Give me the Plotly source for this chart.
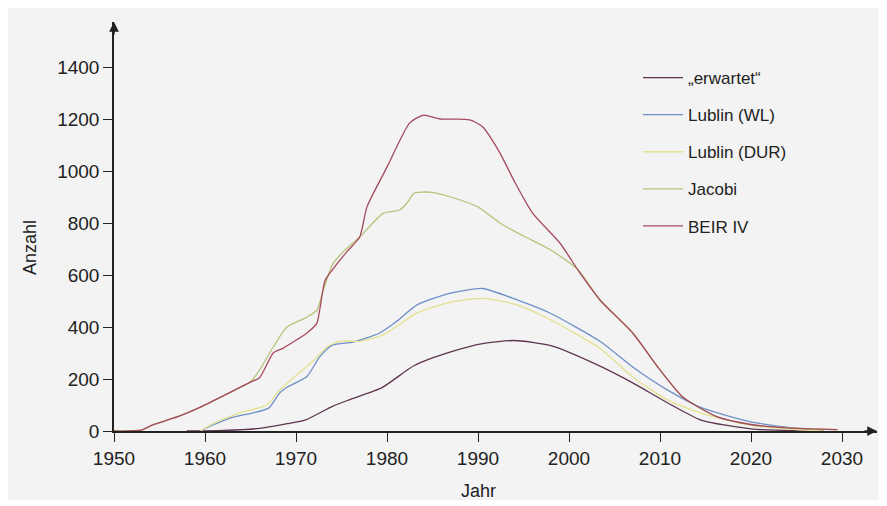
import plotly.graph_objects as go

# values
years_erwartet = [1958, 1962, 1966, 1969, 1971, 1974, 1976, 1979.5, 1983, 1987, 1990.5, 1994, 1998, 2003, 2007, 2011, 2014.5, 2020, 2025, 2028]
erwartet = [0, 2, 10, 28, 42, 95, 122, 168, 252, 304, 336, 348, 328, 256, 185, 105, 42, 8, 1, 0]

years_wl = [1959.5, 1961, 1963, 1965.3, 1967, 1968.2, 1969, 1971.2, 1972.6, 1974, 1976.3, 1979.2, 1981, 1983.3, 1987, 1990.5, 1994.3, 1998, 2003.4, 2007, 2010.8, 2014.4, 2020, 2025.4, 2027.5]
lublin_wl = [0, 25, 52, 70, 88, 146, 168, 210, 285, 330, 342, 377, 420, 485, 530, 548, 504, 452, 345, 246, 158, 92, 35, 8, 0]

years_dur = [1959.5, 1961, 1963.8, 1966.8, 1968.2, 1970.4, 1971.9, 1973.4, 1974.8, 1977, 1979.6, 1983.3, 1987, 1990.5, 1994.3, 1998, 2003.4, 2007, 2010.8, 2014.4, 2020, 2025, 2028]
lublin_dur = [0, 30, 69, 100, 158, 225, 270, 323, 345, 345, 370, 454, 496, 510, 485, 427, 318, 208, 120, 70, 23, 5, 0]

years_jacobi = [1950, 1953, 1954, 1957, 1959.5, 1962, 1965, 1966, 1967.5, 1969, 1971.2, 1972.3, 1973, 1974, 1975.2, 1977, 1979.6, 1981.4, 1982.2, 1983, 1985, 1987, 1990, 1992.4, 1995, 1998, 2001, 2003.4, 2007, 2010, 2012.5, 2016.3, 2020, 2024, 2029.5]
jacobi = [0, 3, 20, 55, 92, 135, 190, 235, 323, 400, 438, 465, 542, 640, 690, 746, 838, 850, 877, 915, 918, 900, 862, 800, 750, 696, 620, 504, 377, 235, 131, 54, 23, 12, 5]

years_beir = [1950, 1953, 1954, 1957, 1959.5, 1962, 1965, 1966, 1967.5, 1968.6, 1971.2, 1972.3, 1972.6, 1973.2, 1974, 1975.6, 1977, 1977.8, 1980, 1982.5, 1984, 1985.8, 1989.1, 1990.5, 1992.4, 1994, 1996, 1999, 2001.2, 2003.4, 2007, 2010, 2012.5, 2016.3, 2020, 2024, 2029.5]
beir = [0, 3, 20, 55, 92, 135, 188, 205, 300, 319, 377, 415, 465, 580, 620, 690, 746, 862, 1015, 1185, 1215, 1200, 1197, 1170, 1070, 960, 838, 723, 608, 504, 377, 235, 131, 54, 25, 12, 5]

series = [
    ('„erwartet“', years_erwartet, erwartet, '#5e3450'),
    ('Lublin (WL)', years_wl, lublin_wl, '#6f8fc8'),
    ('Lublin (DUR)', years_dur, lublin_dur, '#e3e08e'),
    ('Jacobi', years_jacobi, jacobi, '#b9c27a'),
    ('BEIR IV', years_beir, beir, '#a44a5c'),
]

x_ticks = [1950, 1960, 1970, 1980, 1990, 2000, 2010, 2020, 2030]
y_ticks = [0, 200, 400, 600, 800, 1000, 1200, 1400]

FONT = 'Liberation Sans, Arial, sans-serif'
INK = '#222222'

fig = go.Figure()
for i, (name, xs, ys, color) in enumerate(series):
    fig.add_trace(go.Scatter(
        x=xs, y=ys, mode='lines', name=name, legendgroup=f'g{i}',
        line=dict(color=color, width=1.3, shape='spline', smoothing=0.6),
    ))

# the page body adds an 8px margin, so the figure is shrunk by that much
OFF = 8
FW, FH = 887 - OFF, 506 - OFF
# plot area on the page: left 114px, right 877px, top 22px, bottom 431px
L, T = 114 - OFF, 22 - OFF
R, B = 887 - 877, 506 - 431
W, H = FW - L - R, FH - T - B


def px(x):
    return (x - OFF - L) / W


def py(y):
    return (FH - B - (y - OFF)) / H


fig.update_layout(
    width=FW, height=FH,
    margin=dict(l=L, r=R, t=T, b=B, autoexpand=False),
    paper_bgcolor='white',
    plot_bgcolor='rgba(0,0,0,0)',
    font=dict(family=FONT, color=INK),
    showlegend=True,
    legend=dict(
        x=px(638), y=py(60), xanchor='left', yanchor='top',
        bgcolor='rgba(0,0,0,0)', font=dict(size=17, color=INK),
        itemwidth=40, tracegroupgap=12,
    ),
    xaxis=dict(
        range=[1950, 1950 + W / 9.1], tickvals=x_ticks, automargin=False,
        showgrid=False, zeroline=False, showline=True, linecolor=INK, linewidth=1.5,
        ticks='outside', ticklen=9, tickcolor=INK, tickwidth=1.2,
        tickfont=dict(size=19, color=INK),
    ),
    yaxis=dict(
        range=[0, H / 0.26], tickvals=y_ticks, automargin=False,
        showgrid=False, zeroline=False, showline=True, linecolor=INK, linewidth=1.5,
        ticks='outside', ticklen=9, tickcolor=INK, tickwidth=1.2,
        tickfont=dict(size=19, color=INK),
    ),
    shapes=[
        dict(type='rect', xref='paper', yref='paper', layer='below',
             x0=px(8), x1=px(881), y0=py(500), y1=py(8),
             fillcolor='#f3f3f3', line=dict(width=0)),
    ],
)

# axis titles
fig.add_annotation(xref='paper', yref='paper', x=px(478), y=py(491),
                   xanchor='center', yanchor='middle',
                   text='Jahr', showarrow=False, font=dict(size=18, color=INK))
fig.add_annotation(xref='paper', yref='paper', x=px(30), y=py(248),
                   xanchor='center', yanchor='middle',
                   text='Anzahl', showarrow=False, textangle=-90,
                   font=dict(size=18, color=INK))

# axis arrow heads
fig.add_annotation(xref='paper', yref='paper', x=1, y=0, ax=-14, ay=0,
                   showarrow=True, arrowhead=2, arrowsize=1.3, arrowwidth=1.5,
                   arrowcolor=INK, text='')
fig.add_annotation(xref='paper', yref='paper', x=0, y=1, ax=0, ay=14,
                   showarrow=True, arrowhead=2, arrowsize=1.3, arrowwidth=1.5,
                   arrowcolor=INK, text='')

fig.write_html('out.html')
